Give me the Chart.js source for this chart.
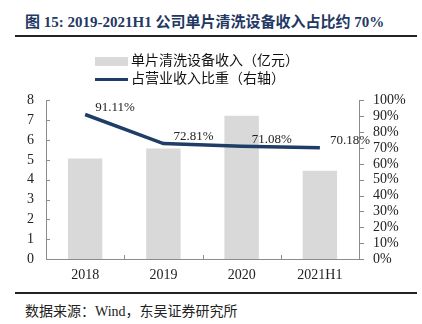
<!DOCTYPE html>
<html>
<head>
<meta charset="utf-8">
<script src="https://cdn.jsdelivr.net/npm/chart.js@4.4.1/dist/chart.umd.min.js"></script>
<style>
  html, body { margin: 0; padding: 0; background: #fff; }
  #page { position: relative; width: 422px; height: 324px; overflow: hidden; font-family: "Liberation Serif", "Noto Sans CJK SC", serif; }
  #title { position: absolute; left: 25px; top: 10px; font-size: 15px; font-weight: bold; color: #1f3864; white-space: nowrap; }
  .rule { position: absolute; left: 15px; width: 402px; height: 2px; background: #222; }
  #legend { position: absolute; left: 95px; top: 52px; font-size: 14px; color: #111; }
  .item { height: 18px; line-height: 18px; white-space: nowrap; }
  .sym { display: inline-block; width: 33px; vertical-align: middle; margin-right: 3px; }
  #wrap { position: absolute; left: 0; top: 78px; width: 422px; height: 212px; }
  #source { position: absolute; left: 25px; top: 300px; font-size: 14px; color: #222; white-space: nowrap; }
</style>
</head>
<body>
<div id="page">
  <div id="title">图 15: 2019-2021H1 公司单片清洗设备收入占比约 70%</div>
  <div class="rule" style="top:35px"></div>
  <div id="wrap"><canvas id="chart"></canvas></div>
  <div id="legend">
    <div class="item"><span class="sym" style="height:9px;background:#d9d9d9"></span>单片清洗设备收入（亿元）</div>
    <div class="item"><span class="sym" style="height:3px;background:#1f3d66"></span>占营业收入比重（右轴）</div>
  </div>
  <div class="rule" style="top:292px"></div>
  <div id="source">数据来源：Wind，东吴证券研究所</div>
</div>
<script>
const years = ['2018', '2019', '2020', '2021H1'];
const revenue = [5.07, 5.58, 7.22, 4.45];
const share = [91.11, 72.81, 71.08, 70.18];
const leftTicks = [0, 1, 2, 3, 4, 5, 6, 7, 8];
const rightTicks = [0, 10, 20, 30, 40, 50, 60, 70, 80, 90, 100];

const axisColor = '#8c8c8c';
const tickFont = { family: 'Liberation Serif', size: 14 };

// 折线上的百分比标签 + 向内的小刻度
const extras = {
    id: 'extras',
    afterDatasetsDraw(chart) {
        const ctx = chart.ctx;
        const meta = chart.getDatasetMeta(1);
        ctx.save();
        ctx.font = '13px "Liberation Serif"';
        ctx.fillStyle = '#222';
        ctx.textAlign = 'left';
        ctx.textBaseline = 'middle';
        meta.data.forEach((pt, i) => {
            ctx.fillText(share[i].toFixed(2) + '%', pt.x + 10, pt.y - 7);
        });

        const area = chart.chartArea;
        const y = chart.scales.y;
        const y1 = chart.scales.y1;
        const x = chart.scales.x;
        ctx.strokeStyle = axisColor;
        ctx.lineWidth = 1;
        ctx.beginPath();
        leftTicks.forEach(v => {
            const py = Math.round(y.getPixelForValue(v)) + 0.5;
            ctx.moveTo(area.left, py);
            ctx.lineTo(area.left + 4, py);
        });
        rightTicks.forEach(v => {
            const py = Math.round(y1.getPixelForValue(v)) + 0.5;
            ctx.moveTo(area.right, py);
            ctx.lineTo(area.right + 5, py);
        });
        for (let i = 0; i < years.length - 1; i++) {
            const px = Math.round((x.getPixelForValue(i) + x.getPixelForValue(i + 1)) / 2) + 0.5;
            ctx.moveTo(px, area.bottom);
            ctx.lineTo(px, area.bottom - 4);
        }
        ctx.stroke();
        ctx.restore();
    }
};

new Chart(document.getElementById('chart'), {
    data: {
        labels: years,
        datasets: [
            {
                type: 'bar',
                label: '单片清洗设备收入（亿元）',
                data: revenue,
                backgroundColor: '#d9d9d9',
                categoryPercentage: 1,
                barPercentage: 0.44,
                yAxisID: 'y',
                order: 2
            },
            {
                type: 'line',
                label: '占营业收入比重（右轴）',
                data: share,
                borderColor: '#1f3d66',
                borderWidth: 3.5,
                pointRadius: 0,
                tension: 0,
                yAxisID: 'y1',
                order: 1
            }
        ]
    },
    options: {
        responsive: true,
        maintainAspectRatio: false,
        animation: false,
        layout: { padding: { top: 12, left: 0, right: 0, bottom: 0 } },
        plugins: {
            legend: { display: false },
            tooltip: { enabled: false }
        },
        scales: {
            x: {
                offset: true,
                grid: { display: false, drawTicks: false },
                border: { color: axisColor },
                ticks: { color: '#222', font: tickFont, padding: 8 },
                afterFit: s => { s.height = 31; }
            },
            y: {
                position: 'left',
                min: 0,
                max: 8,
                grid: { display: false, drawTicks: false },
                border: { color: axisColor },
                ticks: { stepSize: 1, autoSkip: false, color: '#222', font: tickFont, padding: 12 },
                afterFit: s => { s.width = 46; }
            },
            y1: {
                position: 'right',
                min: 0,
                max: 100,
                grid: { display: false, drawTicks: false },
                border: { color: axisColor },
                ticks: { stepSize: 10, autoSkip: false, color: '#222', font: tickFont, padding: 14, callback: v => v + '%' },
                afterFit: s => { s.width = 63; }
            }
        }
    },
    plugins: [extras]
});
</script>
</body>
</html>
